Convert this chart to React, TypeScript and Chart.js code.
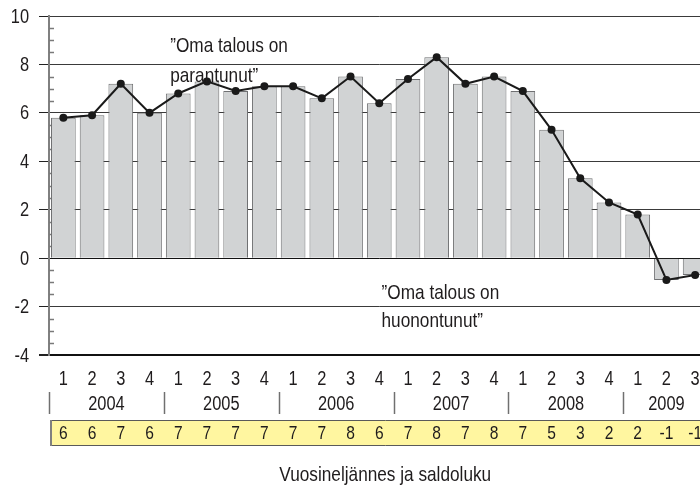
import React, { useEffect, useRef } from "react";
import { Chart, registerables } from "chart.js";

Chart.register(...registerables);

const years = ["2004", "2005", "2006", "2007", "2008", "2009"];
const quarterLabels = ["1", "2", "3", "4", "1", "2", "3", "4", "1", "2", "3", "4", "1", "2", "3", "4", "1", "2", "3", "4", "1", "2", "3"];
const barValues = [5.8, 5.9, 7.2, 6.0, 6.8, 7.3, 6.9, 7.1, 7.1, 6.6, 7.5, 6.4, 7.4, 8.3, 7.2, 7.5, 6.9, 5.3, 3.3, 2.3, 1.8, -0.9, -0.7];
const lineValues = [5.8, 5.9, 7.2, 6.0, 6.8, 7.3, 6.9, 7.1, 7.1, 6.6, 7.5, 6.4, 7.4, 8.3, 7.2, 7.5, 6.9, 5.3, 3.3, 2.3, 1.8, -0.9, -0.7];
const saldoLabels = ["6", "6", "7", "6", "7", "7", "7", "7", "7", "7", "8", "6", "7", "8", "7", "8", "7", "5", "3", "2", "2", "-1", "-1"];
const yMin = -4;
const yMax = 10;
const yStep = 2;
const minorStep = 0.5;
const axisTitle = "Vuosineljännes ja saldoluku";
const annotations = [
  { x: 3.72, y: 8.76, text: "”Oma talous on" },
  { x: 3.72, y: 7.52, text: "parantunut”" },
  { x: 11.08, y: -1.45, text: "”Oma talous on" },
  { x: 11.08, y: -2.6, text: "huonontunut”" },
];

const categories = quarterLabels.map((q, i) => `${years[Math.floor(i / 4)]} ${q}`);

const FONT = "'Liberation Sans', Arial, sans-serif";
const TEXT = "#1f1c1d";
const SQUEEZE = 0.82;

function narrowText(ctx: CanvasRenderingContext2D, text: string, x: number, y: number, size: number, align: CanvasTextAlign) {
  ctx.save();
  ctx.translate(x, y);
  ctx.scale(SQUEEZE, 1);
  ctx.font = `${size}px ${FONT}`;
  ctx.textAlign = align;
  ctx.textBaseline = "middle";
  ctx.fillStyle = TEXT;
  ctx.fillText(text, 0, 0);
  ctx.restore();
}

const decorPlugin = {
  id: "decor",
  beforeDatasetsDraw(chart: any) {
    const { ctx, chartArea, scales } = chart;
    const y = scales.y;
    ctx.save();
    ctx.strokeStyle = "#7a7a7a";
    ctx.lineWidth = 1.5;
    for (let v = yMin; v <= yMax + 1e-9; v += minorStep) {
      if (Math.abs(v / yStep - Math.round(v / yStep)) < 1e-6) continue;
      const py = Math.round(y.getPixelForValue(v)) + 0.5;
      ctx.beginPath();
      ctx.moveTo(chartArea.left, py);
      ctx.lineTo(chartArea.left + 5, py);
      ctx.stroke();
    }
    ctx.restore();
    // y tick labels from the scale's own ticks
    y.ticks.forEach((t: any) => {
      narrowText(ctx, String(t.value), chartArea.left - 20, y.getPixelForValue(t.value) + 1, 20, "right");
    });
  },
  afterDatasetsDraw(chart: any) {
    const { ctx, chartArea, scales } = chart;
    const x = scales.x;
    const y = scales.y;
    const b = chartArea.bottom;
    const n = quarterLabels.length;
    const slot = n > 1 ? x.getPixelForValue(1) - x.getPixelForValue(0) : 0;

    annotations.forEach((a) => {
      const px = x.getPixelForValue(0) + a.x * slot;
      narrowText(ctx, a.text, px, y.getPixelForValue(a.y), 21, "left");
    });

    quarterLabels.forEach((q, i) => {
      narrowText(ctx, q, x.getPixelForValue(i), b + 24, 20, "center");
    });

    ctx.save();
    years.forEach((yr, k) => {
      const s = k * 4;
      if (s >= n) return;
      const e = Math.min(s + 3, n - 1);
      const cx = (x.getPixelForValue(s) + x.getPixelForValue(e)) / 2;
      narrowText(ctx, yr, cx, b + 49, 20, "center");
      const sx = Math.round(x.getPixelForValue(s) - slot / 2) + 0.5;
      ctx.strokeStyle = "#707070";
      ctx.lineWidth = 1.5;
      ctx.beginPath();
      ctx.moveTo(sx, b + 37);
      ctx.lineTo(sx, b + 59);
      ctx.stroke();
    });

    const bx = chartArea.left + 1;
    const by = b + 65;
    const bh = 26;
    ctx.fillStyle = "#fff6a0";
    ctx.fillRect(bx, by, chartArea.right - bx + 20, bh);
    ctx.strokeStyle = "#5a5a5a";
    ctx.lineWidth = 1;
    ctx.beginPath();
    ctx.moveTo(bx, by + 0.5);
    ctx.lineTo(chartArea.right + 20, by + 0.5);
    ctx.moveTo(bx, by + bh - 0.5);
    ctx.lineTo(chartArea.right + 20, by + bh - 0.5);
    ctx.stroke();
    ctx.strokeStyle = "#808080";
    ctx.lineWidth = 2;
    ctx.beginPath();
    ctx.moveTo(bx + 1, by);
    ctx.lineTo(bx + 1, by + bh);
    ctx.stroke();
    ctx.restore();
    saldoLabels.forEach((s, i) => {
      narrowText(ctx, s, x.getPixelForValue(i), by + bh / 2 + 1, 19, "center");
    });

    narrowText(ctx, axisTitle, (chartArea.left + chartArea.right) / 2 + 6, b + 120, 21, "center");
  },
};

export default function App() {
  const ref = useRef<HTMLCanvasElement>(null);
  useEffect(() => {
    if (!ref.current) return;
    Chart.defaults.font.family = FONT;
    const chart = new Chart(ref.current, {
      type: "bar",
      data: {
        labels: categories,
        datasets: [
          {
            type: "line",
            data: lineValues,
            borderColor: "#1a1a1a",
            backgroundColor: "#1a1a1a",
            borderWidth: 2,
            pointRadius: 4,
            pointBackgroundColor: "#1a1a1a",
            pointBorderWidth: 0,
            tension: 0,
            order: 0,
          } as any,
          {
            type: "bar",
            data: barValues,
            backgroundColor: "#d1d3d4",
            borderColor: "#6f7072",
            borderWidth: 1,
            barPercentage: 0.86,
            categoryPercentage: 1,
            order: 1,
          } as any,
        ],
      },
      options: {
        responsive: false,
        animation: false,
        layout: { padding: { left: 0, top: 16, right: 10.5, bottom: 131 } },
        plugins: { legend: { display: false }, tooltip: { enabled: false } },
        scales: {
          x: { display: false, offset: true, grid: { display: false } },
          y: {
            min: yMin,
            max: yMax,
            ticks: { stepSize: yStep, display: false },
            grid: {
              color: (c: any) => (c.tick && (c.tick.value === yMin || c.tick.value === 0) ? "#111" : "#3a3a3a"),
              lineWidth: (c: any) => (c.tick && c.tick.value === yMin ? 2 : 1),
              tickLength: 10,
              tickColor: "#222",
              drawTicks: true,
            },
            border: { display: true, color: "#808080", width: 2 },
            afterFit: (s: any) => {
              s.width = 49;
            },
          },
        },
      },
      plugins: [decorPlugin],
    });
    return () => chart.destroy();
  }, []);
  return (
    <div style={{ position: "absolute", left: 0, top: 0, width: 700, height: 486, overflow: "hidden", background: "#fff" }}>
      <canvas ref={ref} width={720} height={486} style={{ display: "block" }} />
    </div>
  );
}
